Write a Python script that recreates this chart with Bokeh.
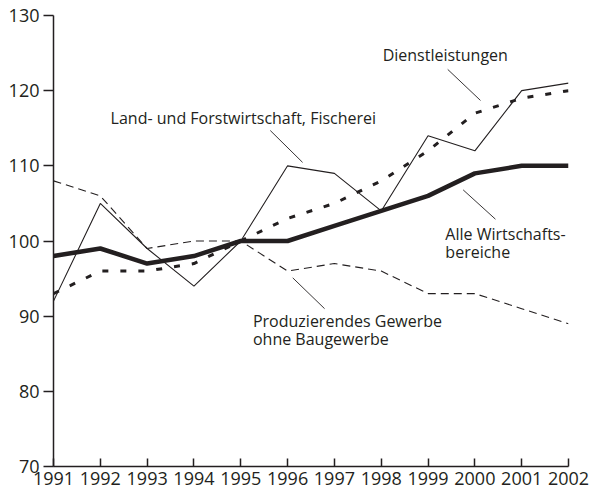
from bokeh.plotting import figure
from bokeh.models import Label, FixedTicker, Range1d
from bokeh.embed import file_html
from bokeh.resources import INLINE

years = [1991, 1992, 1993, 1994, 1995, 1996, 1997, 1998, 1999, 2000, 2001, 2002]
alle = [98, 99, 97, 98, 100, 100, 102, 104, 106, 109, 110, 110]
land = [92, 105, 99, 94, 100, 110, 109, 104, 114, 112, 120, 121]
dienst = [93, 96, 96, 97, 100, 103, 105, 108, 112, 117, 119, 120]
produz = [108, 106, 99, 100, 100, 96, 97, 96, 93, 93, 91, 89]
y_ticks = [70, 80, 90, 100, 110, 120, 130]

INK = "#231f20"
FONT = "Open Sans"

p = figure(width=589, height=490, frame_width=515, frame_height=451,
           output_backend="svg", toolbar_location=None,
           x_range=Range1d(1991, 2002), y_range=Range1d(70, 130),
           min_border_left=53, min_border_top=15, min_border_right=21, min_border_bottom=24)
p.outline_line_color = None
p.grid.visible = False
p.background_fill_color = "white"
p.border_fill_color = "white"

p.line(years, produz, line_color=INK, line_width=1.1, line_dash="8 5")
p.line(years, land, line_color=INK, line_width=1.1)
p.line(years, dienst, line_color=INK, line_width=3, line_dash="6 12")
p.line(years, alle, line_color=INK, line_width=4.5)

for ax in (p.xaxis[0], p.yaxis[0]):
    ax.axis_line_color = INK
    ax.axis_line_width = 1.5
    ax.major_tick_line_color = INK
    ax.major_tick_line_width = 1.5
    ax.minor_tick_line_color = None
    ax.major_label_text_font = FONT
    ax.major_label_text_font_size = "18px"
    ax.major_label_text_color = INK

p.xaxis.ticker = FixedTicker(ticks=years)
p.xaxis.major_tick_in = 8
p.xaxis.major_tick_out = 0
p.xaxis.major_label_standoff = 5
p.yaxis.ticker = FixedTicker(ticks=y_ticks)
p.yaxis.major_tick_in = 0
p.yaxis.major_tick_out = 10
p.yaxis.major_label_standoff = 4

labels = [
    ("Land- und Forstwirtschaft, Fischerei", 1992.22, 116.3),
    ("Dienstleistungen", 1998.03, 124.7),
    ("Alle Wirtschafts-", 1999.37, 100.9),
    ("bereiche", 1999.37, 98.5),
    ("Produzierendes Gewerbe", 1995.26, 89.3),
    ("ohne Baugewerbe", 1995.26, 86.9),
]
for txt, x, y in labels:
    p.add_layout(Label(x=x, y=y, text=txt, text_font=FONT, text_font_size="16px",
                       text_color=INK, text_baseline="middle", text_align="left"))

pointers = [
    ((1995.63, 1996.32), (114.7, 110.46)),
    ((1999.42, 2000.12), (122.83, 118.7)),
    ((1999.75, 2000.44), (106.8, 102.9)),
    ((1996.11, 1996.79), (95.1, 91.0)),
]
for xs, ys in pointers:
    p.line(list(xs), list(ys), line_color=INK, line_width=0.9)

open("out.html", "w").write(file_html(p, INLINE))
